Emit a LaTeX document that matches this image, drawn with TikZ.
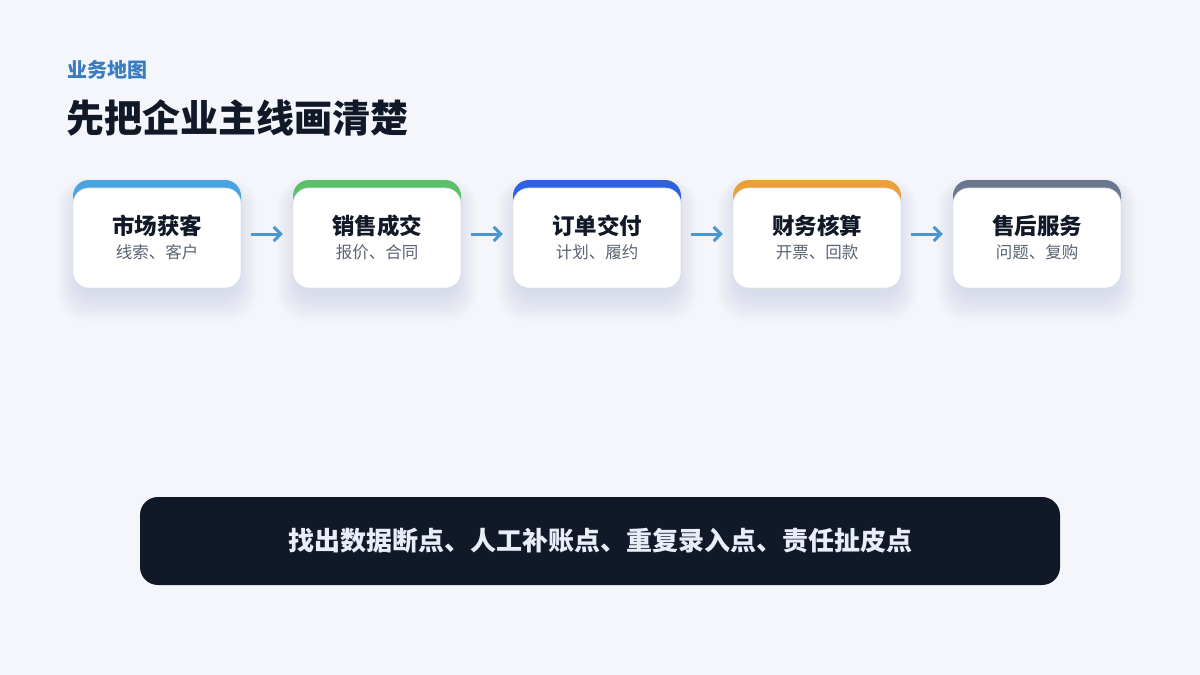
\documentclass[tikz,border=0pt]{standalone}
\usepackage{fontspec}
\setmainfont{Noto Sans CJK SC}
\usetikzlibrary{arrows.meta}
\definecolor{pagebg}{HTML}{F4F6FB}
\definecolor{kickerblue}{HTML}{3A7CC0}
\definecolor{ink}{HTML}{111827}
\definecolor{subgray}{HTML}{5B6473}
\definecolor{cardline}{HTML}{E2E5EB}
\definecolor{flowblue}{HTML}{4A97CF}
\definecolor{bartext}{HTML}{E8EEF7}
\definecolor{shadowgray}{HTML}{5A6478}
\definecolor{bandA}{HTML}{4AA3E0}
\definecolor{bandB}{HTML}{5CBF6A}
\definecolor{bandC}{HTML}{2F62E0}
\definecolor{bandD}{HTML}{EBA03A}
\definecolor{bandE}{HTML}{6B778C}

\begin{document}
\begin{tikzpicture}[x=1pt,y=-1pt,
    card/.style={rounded corners=16pt,minimum width=168pt,minimum height=108pt,inner sep=0pt},
    body/.style={card,fill=white,draw=cardline,line width=0.6pt,minimum height=100pt},
    cardtitle/.style={text=ink,font=\bfseries\fontsize{22.5}{26}\selectfont,inner sep=0pt},
    cardsub/.style={text=subgray,font=\fontsize{16.5}{19}\selectfont,inner sep=0pt},
    flow/.style={flowblue,line width=3pt,-{Straight Barb[length=7pt,width=14pt]},shorten <=10pt,shorten >=10pt}]
        \useasboundingbox (0,0) rectangle (1200,675);
        \fill[pagebg] (0,0) rectangle (1200,675);
        \node[anchor=west,inner sep=0pt,text=kickerblue,font=\bfseries\fontsize{20}{24}\selectfont] (kicker) at (67,70) {业务地图};
        \node[anchor=west,inner sep=0pt,text=ink,font=\bfseries\fontsize{38}{44}\selectfont] (headline) at (66,118) {先把企业主线画清楚};
        \foreach \i/\band/\name/\sub in {1/bandA/市场获客/线索、客户,2/bandB/销售成交/报价、合同,3/bandC/订单交付/计划、履约,4/bandD/财务核算/开票、回款,5/bandE/售后服务/问题、复购}{
          \pgfmathsetmacro\cx{157+220*(\i-1)}
          % soft shadow under the card
          \foreach \k in {0,...,14}
            \fill[shadowgray,opacity=0.009,rounded corners=16pt+\k pt]
              (\cx-78-1.6*\k,192-\k) rectangle (\cx+78+1.6*\k,294+2*\k);
          \node[card,fill=\band] (c\i) at (\cx,234) {};
          \node[body] (w\i) at (\cx,238) {};
          \node[cardtitle] (t\i) at (\cx,226) {\name};
          \node[cardsub] (s\i) at (\cx,252) {\sub};
        }
        \foreach \i [evaluate=\i as \j using int(\i+1)] in {1,...,4}
          \draw[flow] (c\i) -- (c\j);
        \node[fill=ink,rounded corners=18pt,minimum width=920pt,minimum height=88pt,text=bartext,font=\bfseries\fontsize{26}{30}\selectfont] (gaps) at (600,541) {找出数据断点、人工补账点、重复录入点、责任扯皮点};
      \end{tikzpicture}
\end{document}
